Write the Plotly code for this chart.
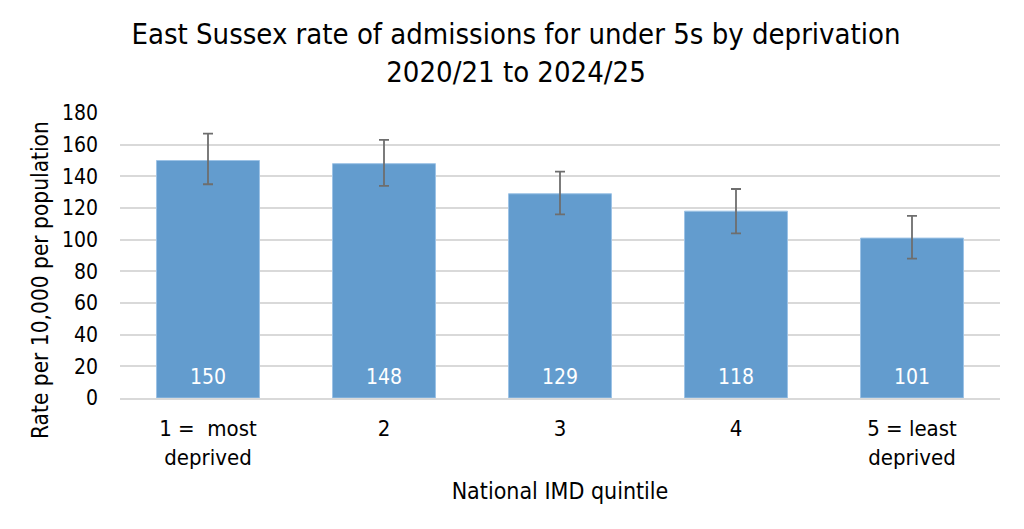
import plotly.graph_objects as go

categories = ["1 =  most<br>deprived", "2", "3", "4", "5 = least<br>deprived"]
rates = [150, 148, 129, 118, 101]
ci_upper = [167, 163, 143, 132, 115]
ci_lower = [135, 134, 116, 104, 88]

err_plus = [u - v for u, v in zip(ci_upper, rates)]
err_minus = [v - l for v, l in zip(rates, ci_lower)]

FONT = "DejaVu Sans Condensed"

fig = go.Figure(go.Bar(
    x=list(range(len(categories))), y=rates,
    marker=dict(color="#639CCE", line=dict(color="#9DC3E6", width=1)),
    error_y=dict(type="data", symmetric=False, array=err_plus, arrayminus=err_minus,
                 color="#6E6E6E", thickness=1.8, width=5),
    cliponaxis=False,
))

for i, v in enumerate(rates):
    fig.add_annotation(x=i, y=0, text=str(v), showarrow=False, yanchor="bottom",
                       yshift=7, font=dict(color="white", size=21, family=FONT))

fig.add_annotation(xref="paper", yref="paper", x=-0.0909, y=0.414,
                   text="Rate per 10,000 per population", textangle=-90,
                   showarrow=False, xanchor="center", yanchor="middle",
                   font=dict(size=22.5, family=FONT, color="black"))

fig.update_layout(
    width=1016, height=521,
    margin=dict(l=112, r=24, t=105, b=131),
    paper_bgcolor="white", plot_bgcolor="white",
    font=dict(family=FONT, color="black", size=22),
    title=dict(text="East Sussex rate of admissions for under 5s by deprivation<br>2020/21 to 2024/25",
               x=0.5, xanchor="center", y=0.93, yanchor="top",
               font=dict(size=29, family=FONT, color="black")),
    bargap=0.415, showlegend=False,
    xaxis=dict(title=dict(text="National IMD quintile", font=dict(size=23), standoff=14),
               tickmode="array", tickvals=list(range(len(categories))), ticktext=categories,
               tickfont=dict(size=22), showline=True, linecolor="#D9D9D9", linewidth=1.5,
               ticks="", showgrid=False, ticklabelstandoff=10, range=[-0.5, 4.5]),
    yaxis=dict(range=[0, 180], dtick=20, tickfont=dict(size=21),
               showgrid=True, gridcolor="#D9D9D9", gridwidth=1.5, zeroline=False, ticks="",
               ticklabelstandoff=21),
)

fig.write_html("out.html")
